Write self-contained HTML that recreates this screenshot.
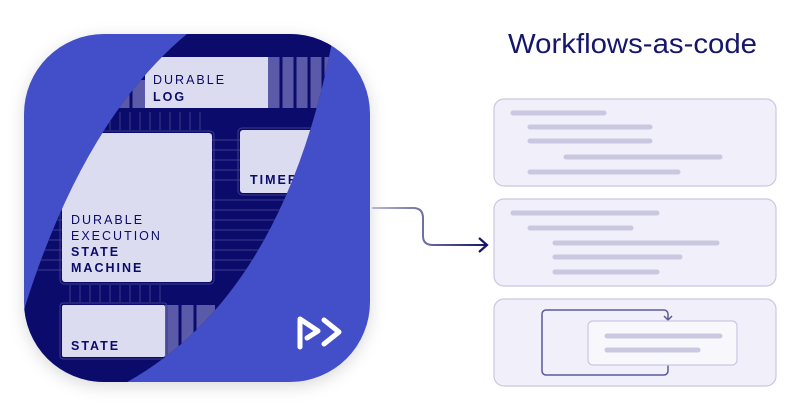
<!DOCTYPE html>
<html><head><meta charset="utf-8"><style>
html,body{margin:0;padding:0;background:#fff;width:800px;height:418px;overflow:hidden}
svg{display:block}
text{font-family:"Liberation Sans",sans-serif}
</style></head><body>
<svg width="800" height="418" viewBox="0 0 800 418" xmlns="http://www.w3.org/2000/svg">
<defs>
<clipPath id="sq"><rect x="24" y="34" width="346" height="348" rx="80"/></clipPath>
<clipPath id="dark"><path d="M205,20 Q80,110 15,340 L10,400 L90,400 Q285,320 336,20 Z"/></clipPath>
<linearGradient id="ag" x1="0" x2="1"><stop offset="0" stop-color="#b8b8d4"/><stop offset="1" stop-color="#15156a"/></linearGradient>
<filter id="sh" x="-20%" y="-20%" width="140%" height="140%"><feDropShadow dx="0" dy="4" stdDeviation="8" flood-color="#000" flood-opacity="0.15"/></filter>
</defs>
<rect x="24" y="34" width="346" height="348" rx="80" fill="#4350c8" filter="url(#sh)"/>
<g clip-path="url(#sq)">
<g clip-path="url(#dark)">
<rect x="0" y="0" width="400" height="418" fill="#0b0b6c"/>
<g stroke="#3c3c8c" stroke-width="1">
<path d="M30,140H62M30,150H62M30,160H62M30,170H62M30,180H62M30,190H62M30,200H62M30,210H62M30,220H62M30,230H62M30,240H62M30,250H62M30,260H62M30,270H62"/>
<path d="M212,140H240M212,150H240M212,160H240M212,170H240M212,180H240M212,200H330M212,210H330M212,220H330M212,230H330M212,240H330M212,250H330M212,260H330M212,270H330"/>
<path d="M70,112V130M80,112V130M90,112V130M100,112V130M110,112V130M120,112V130M130,112V130M140,112V130M150,112V130M160,112V130M170,112V130M180,112V130M190,112V130M200,112V130"/>
<path d="M70,285V302M80,285V302M90,285V302M100,285V302M110,285V302M120,285V302M130,285V302M140,285V302M150,285V302M160,285V302"/>
</g>
<rect x="268" y="57" width="70" height="51" fill="#5a5aa8"/>
<g stroke="#0b0b6c" stroke-width="3"><path d="M281,57V108M295,57V108M309,57V108M323,57V108"/></g>
<rect x="118" y="80" width="27" height="28" fill="#5a5aa8"/>
<path d="M131,80V108" stroke="#0b0b6c" stroke-width="3"/>
<rect x="165" y="305" width="50" height="52" fill="#5a5aa8"/>
<g stroke="#0b0b6c" stroke-width="3"><path d="M180,305V357M195,305V357"/></g>
<rect x="145" y="57" width="123" height="51" fill="#dcdcf0"/>
<rect x="60" y="131" width="154" height="153" rx="4" fill="none" stroke="#3c3c8c"/>
<rect x="62" y="133" width="150" height="149" rx="3" fill="#dcdcf0"/>
<rect x="238" y="128" width="100" height="67" rx="4" fill="none" stroke="#3c3c8c"/>
<rect x="240" y="130" width="100" height="63" rx="3" fill="#dcdcf0"/>
<rect x="60" y="303" width="107" height="56" rx="3" fill="none" stroke="#3c3c8c"/>
<rect x="62" y="305" width="103" height="52" rx="2" fill="#dcdcf0"/>
<g fill="#0b0b6c" font-size="12.5" letter-spacing="2">
<text x="153" y="84">DURABLE</text>
<text x="153" y="101" font-weight="bold">LOG</text>
<text x="250" y="184" font-weight="bold">TIMER</text>
<text x="71" y="224">DURABLE</text>
<text x="71" y="240">EXECUTION</text>
<text x="71" y="256" font-weight="bold">STATE</text>
<text x="71" y="272" font-weight="bold">MACHINE</text>
<text x="71" y="350" font-weight="bold">STATE</text>
</g>
</g>
</g>
<g fill="none" stroke="#fff" stroke-width="5" stroke-linejoin="round" stroke-linecap="round">
<path d="M300,347V319L318,331L307,338"/>
<path d="M324,320L339,332L324,344"/>
</g>
<path d="M372,208H413Q423,208 423,218V236Q423,245 433,245H487" fill="none" stroke="url(#ag)" stroke-width="2"/>
<path d="M479,238L487,245L479,252" fill="none" stroke="#15156a" stroke-width="2.2"/>
<text x="508" y="53" font-size="28" fill="#16166a" textLength="249" lengthAdjust="spacingAndGlyphs">Workflows-as-code</text>
<g fill="#f0effa" stroke="#cac8e0" stroke-width="1.2">
<rect x="494" y="99" width="282" height="87" rx="10"/>
<rect x="494" y="199" width="282" height="87" rx="10"/>
<rect x="494" y="299" width="282" height="87" rx="10"/>
</g>
<g stroke="#cac8e0" stroke-width="5" stroke-linecap="round">
<path d="M513,113H604M530,127H650M530,141H650M566,157H720M530,172H678"/>
<path d="M513,213H657M530,228H631M555,243H717M555,257H680M555,272H657"/>
</g>
<rect x="542" y="310" width="126" height="65" rx="4" fill="none" stroke="#5a5a9a" stroke-width="1.5"/>
<path d="M664,316L668,320L672,316" fill="none" stroke="#5a5a9a" stroke-width="1.5"/>
<rect x="588" y="321" width="149" height="44" rx="5" fill="#f7f7fc" stroke="#cac8e0" stroke-width="1.2"/>
<g stroke="#cac8e0" stroke-width="5" stroke-linecap="round"><path d="M607,336H720M607,350H698"/></g>
</svg>
</body></html>
